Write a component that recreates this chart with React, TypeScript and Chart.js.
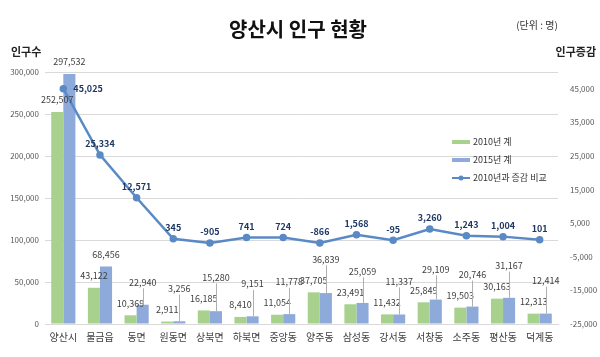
import React, { useEffect, useRef } from "react";
import { Chart, registerables } from "chart.js";

Chart.register(...registerables);

const categories = ["양산시", "물금읍", "동면", "원동면", "상북면", "하북면", "중앙동", "양주동", "삼성동", "강서동", "서창동", "소주동", "평산동", "덕계동"];
const pop2010 = [252507, 43122, 10369, 2911, 16185, 8410, 11054, 37705, 23491, 11432, 25849, 19503, 30163, 12313];
const pop2015 = [297532, 68456, 22940, 3256, 15280, 9151, 11778, 36839, 25059, 11337, 29109, 20746, 31167, 12414];
const diff = [45025, 25334, 12571, 345, -905, 741, 724, -866, 1568, -95, 3260, 1243, 1004, 101];
const leftTicks = [0, 50000, 100000, 150000, 200000, 250000, 300000];
const rightTicks = [-25000, -15000, -5000, 5000, 15000, 25000, 35000, 45000];
const legendLabels = ["2010년 계", "2015년 계", "2010년과 증감 비교"];

const GREEN = "#a9d18e";
const BLUE = "#8eaadb";
const LINE = "#5a8ac6";
const FONT = "'Noto Sans CJK KR', 'Noto Sans', sans-serif";

const fmt = (v: number) => v.toLocaleString("en-US");

const decorPlugin = {
  id: "decor",
  afterDatasetsDraw(chart: any) {
    const ctx = chart.ctx;
    ctx.save();
    // bar labels
    const mG = chart.getDatasetMeta(0);
    const mB = chart.getDatasetMeta(1);
    ctx.font = `9px ${FONT}`;
    ctx.fillStyle = "#404040";
    ctx.textAlign = "center";
    ctx.textBaseline = "middle";
    for (let i = 0; i < categories.length; i++) {
      const g = mG.data[i];
      const b = mB.data[i];
      const gy = g.y - 12;
      ctx.fillStyle = "#404040";
      ctx.fillText(fmt(pop2010[i]), g.x, gy);
      const by = Math.min(b.y - 12, gy - 21);
      ctx.fillText(fmt(pop2015[i]), b.x, by);
      if (b.y - by > 20) {
        ctx.strokeStyle = "#b0b0b0";
        ctx.lineWidth = 1;
        ctx.beginPath();
        ctx.moveTo(Math.round(b.x) + 0.5, by + 6);
        ctx.lineTo(Math.round(b.x) + 0.5, b.y);
        ctx.stroke();
      }
    }
    // line labels
    const mL = chart.getDatasetMeta(2);
    ctx.font = `bold 9px ${FONT}`;
    ctx.fillStyle = "#1f3864";
    for (let i = 0; i < diff.length; i++) {
      const p = mL.data[i];
      if (i === 0) {
        ctx.textAlign = "left";
        ctx.fillText(fmt(diff[i]), p.x + 10, p.y);
      } else {
        ctx.textAlign = "center";
        ctx.fillText(fmt(diff[i]), p.x, p.y - 11);
      }
    }
    // titles
    ctx.fillStyle = "#111111";
    ctx.textAlign = "center";
    ctx.font = `bold 20px ${FONT}`;
    ctx.fillText("양산시 인구 현황", 298, 29);
    ctx.font = `10px ${FONT}`;
    ctx.fillStyle = "#333333";
    ctx.fillText("(단위 : 명)", 537, 25);
    ctx.font = `bold 11px ${FONT}`;
    ctx.fillStyle = "#222222";
    ctx.textAlign = "left";
    ctx.fillText("인구수", 11, 52);
    ctx.textAlign = "right";
    ctx.fillText("인구증감", 596, 52);
    // legend
    ctx.font = `9px ${FONT}`;
    ctx.fillStyle = "#333333";
    ctx.textAlign = "left";
    const lx = 452;
    const ys = [142, 160, 178];
    ctx.fillStyle = GREEN;
    ctx.fillRect(lx, ys[0] - 2, 18, 4);
    ctx.fillStyle = BLUE;
    ctx.fillRect(lx, ys[1] - 2, 18, 4);
    ctx.strokeStyle = LINE;
    ctx.lineWidth = 2;
    ctx.beginPath();
    ctx.moveTo(lx, ys[2]);
    ctx.lineTo(lx + 18, ys[2]);
    ctx.stroke();
    ctx.fillStyle = LINE;
    ctx.beginPath();
    ctx.arc(lx + 9, ys[2], 2.5, 0, Math.PI * 2);
    ctx.fill();
    ctx.fillStyle = "#333333";
    legendLabels.forEach((t, i) => ctx.fillText(t, lx + 21, ys[i]));
    ctx.restore();
  },
};

export default function App() {
  const ref = useRef<HTMLCanvasElement>(null);
  useEffect(() => {
    document.body.style.margin = "0";
    const chart = new Chart(ref.current!, {
      type: "bar",
      data: {
        labels: categories,
        datasets: [
          { type: "bar", label: legendLabels[0], data: pop2010, backgroundColor: GREEN, yAxisID: "y", order: 2, categoryPercentage: 0.66, barPercentage: 1 },
          { type: "bar", label: legendLabels[1], data: pop2015, backgroundColor: BLUE, yAxisID: "y", order: 2, categoryPercentage: 0.66, barPercentage: 1 },
          {
            type: "line", label: legendLabels[2], data: diff, yAxisID: "y1", order: 0,
            borderColor: LINE, backgroundColor: LINE, borderWidth: 2.5,
            pointRadius: 2.5, pointBackgroundColor: LINE, pointBorderColor: LINE, tension: 0,
          },
        ] as any,
      },
      options: {
        responsive: false,
        animation: false,
        layout: { padding: { top: 72, left: 0, right: 0, bottom: 8 } },
        plugins: { legend: { display: false }, tooltip: { enabled: false }, title: { display: false } },
        font: { family: FONT } as any,
        scales: {
          x: {
            grid: { display: false, drawTicks: false },
            border: { display: true, color: "#d9d9d9" },
            ticks: { font: { family: FONT, size: 10 }, color: "#404040", padding: 7, maxRotation: 0, autoSkip: false },
            afterFit: (s: any) => { s.height = 25; },
          },
          y: {
            position: "left",
            min: 0,
            max: 300000,
            grid: { color: "#d9d9d9", drawTicks: false },
            border: { display: false },
            ticks: { font: { family: FONT, size: 8 }, color: "#595959", padding: 6, callback: (v: any) => fmt(Number(v)) },
            afterBuildTicks: (s: any) => { s.ticks = leftTicks.map((v) => ({ value: v })); },
            afterFit: (s: any) => { s.width = 45; },
          },
          y1: {
            position: "right",
            min: -25000,
            max: 50000,
            grid: { display: false, drawTicks: false },
            border: { display: false },
            ticks: { font: { family: FONT, size: 8 }, color: "#595959", padding: 12, callback: (v: any) => fmt(Number(v)) },
            afterBuildTicks: (s: any) => { s.ticks = rightTicks.map((v) => ({ value: v })); },
            afterFit: (s: any) => { s.width = 42; },
          },
        },
      } as any,
      plugins: [decorPlugin],
    });
    return () => chart.destroy();
  }, []);
  return <canvas ref={ref} width={600} height={357} style={{ display: "block" }} />;
}
